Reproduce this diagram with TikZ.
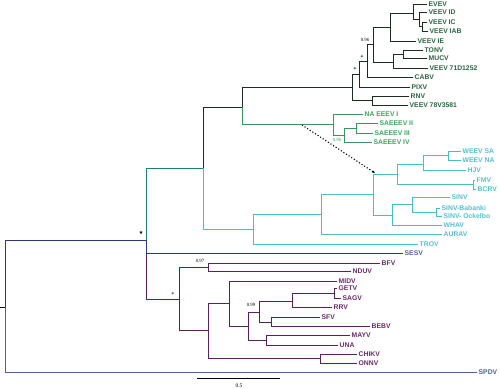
\documentclass[tikz,border=0pt]{standalone}
\usepackage{fontspec}
\newfontfamily\taxonfont{Liberation Sans}
\newfontfamily\numfont{Liberation Serif}
\newfontfamily\symfont{DejaVu Sans}
\usetikzlibrary{arrows.meta}
\definecolor{rootblue}{RGB}{45,55,135}
\definecolor{spdvblue}{RGB}{75,95,165}
\definecolor{stemteal}{RGB}{25,130,118}
\definecolor{veevline}{RGB}{25,45,32}
\definecolor{veevtext}{RGB}{40,100,65}
\definecolor{eeevline}{RGB}{55,150,90}
\definecolor{eeevtext}{RGB}{60,165,95}
\definecolor{weevline}{RGB}{70,190,195}
\definecolor{weevtext}{RGB}{85,192,208}
\definecolor{sfline}{RGB}{90,32,92}
\definecolor{sftext}{RGB}{105,42,105}
\tikzset{
  branch/.style={line width=0.9pt, line cap=rect},
  taxon/.style={
    anchor=west,
    inner sep=1.5pt,
    font={\taxonfont\fontsize{6.8}{8}\selectfont\bfseries},
  },
  support/.style={font={\numfont\fontsize{4.8}{5}\selectfont}, inner sep=0pt},
  nodemark/.style={font={\symfont\fontsize{5}{5}\selectfont}, inner sep=0pt},
  recomb/.style={line width=1.1pt, dotted, -{Latex[length=2.5pt, width=2.5pt]}},
}

\begin{document}
\begin{tikzpicture}[x=1pt, y=-1pt]
  \useasboundingbox (0,0) rectangle (500,388);

  % internal nodes
  \coordinate (stub) at (0,307);
  \coordinate (root) at (5,307);
  \coordinate (alpha) at (146,240);
  \coordinate (ncl) at (203,168);
  \coordinate (eve) at (242,107);
  \coordinate (vee) at (352,87);
  \coordinate (vee2) at (359,74);
  \coordinate (vee3) at (367,61);
  \coordinate (vee4) at (373,44);
  \coordinate (vee5) at (390,27);
  \coordinate (vee6) at (413,13);
  \coordinate (vee7) at (419,19);
  \coordinate (vee8) at (422,26);
  \coordinate (vee9) at (393,62);
  \coordinate (vee10) at (403,54);
  \coordinate (rnvcl) at (372,100);
  \coordinate (eee) at (333,124);
  \coordinate (eee2) at (344,135);
  \coordinate (eee3) at (356,128);
  \coordinate (wee0) at (253,229);
  \coordinate (wee) at (321,214);
  \coordinate (wee2) at (373,194);
  \coordinate (wee3) at (397,174);
  \coordinate (wee4) at (423,164);
  \coordinate (wee5) at (448,155);
  \coordinate (wee6) at (473,184);
  \coordinate (sin) at (392,215);
  \coordinate (sin2) at (412,204);
  \coordinate (sin3) at (436,212);
  \coordinate (sfc) at (179,299);
  \coordinate (bfc) at (208,267);
  \coordinate (sfc2) at (208,330);
  \coordinate (sfc3) at (229,303);
  \coordinate (sfc4) at (248,326);
  \coordinate (sfc5) at (259,312);
  \coordinate (sfc6) at (292,301);
  \coordinate (sfc7) at (334,293);
  \coordinate (sfc8) at (271,322);
  \coordinate (sfc9) at (266,340);
  \coordinate (chk) at (320,358);

  % VEEV complex
  \node[taxon, text=veevtext] (evev) at (427,4) {EVEV};
  \node[taxon, text=veevtext] (veevid) at (427,12) {VEEV ID};
  \node[taxon, text=veevtext] (veevic) at (427,22) {VEEV IC};
  \node[taxon, text=veevtext] (veeviab) at (428,31) {VEEV IAB};
  \node[taxon, text=veevtext] (veevie) at (416,41) {VEEV IE};
  \node[taxon, text=veevtext] (tonv) at (423,50) {TONV};
  \node[taxon, text=veevtext] (mucv) at (427,58) {MUCV};
  \node[taxon, text=veevtext] (veev71) at (428,68) {VEEV 71D1252};
  \node[taxon, text=veevtext] (cabv) at (413,77) {CABV};
  \node[taxon, text=veevtext] (pixv) at (410,87) {PIXV};
  \node[taxon, text=veevtext] (rnv) at (409,96) {RNV};
  \node[taxon, text=veevtext] (veev78) at (408,105) {VEEV 78V3581};
  % EEEV
  \node[taxon, text=eeevtext] (naeeev) at (363,114) {NA EEEV I};
  \node[taxon, text=eeevtext] (saii) at (378,123) {SAEEEV II};
  \node[taxon, text=eeevtext] (saiii) at (373,133) {SAEEEV III};
  \node[taxon, text=eeevtext] (saiv) at (372,142) {SAEEEV IV};
  % WEEV / SINV
  \node[taxon, text=weevtext] (weevsa) at (461,151) {WEEV SA};
  \node[taxon, text=weevtext] (weevna) at (461,160) {WEEV NA};
  \node[taxon, text=weevtext] (hjv) at (466,170) {HJV};
  \node[taxon, text=weevtext] (fmv) at (475,180) {FMV};
  \node[taxon, text=weevtext] (bcrv) at (476,189) {BCRV};
  \node[taxon, text=weevtext] (sinv) at (450,197) {SINV};
  \node[taxon, text=weevtext] (babanki) at (440,208) {SINV-Babanki};
  \node[taxon, text=weevtext] (ockelbo) at (442,216) {SINV- Ockelbo};
  \node[taxon, text=weevtext] (whav) at (442,225) {WHAV};
  \node[taxon, text=weevtext] (aurav) at (442,234) {AURAV};
  \node[taxon, text=weevtext] (trov) at (418,244) {TROV};
  \node[taxon, text=rootblue!80!white] (sesv) at (403,253) {SESV};
  % SF complex
  \node[taxon, text=sftext] (bfv) at (380,263) {BFV};
  \node[taxon, text=sftext] (nduv) at (351,271) {NDUV};
  \node[taxon, text=sftext] (midv) at (337,281) {MIDV};
  \node[taxon, text=sftext] (getv) at (337,288) {GETV};
  \node[taxon, text=sftext] (sagv) at (341,298) {SAGV};
  \node[taxon, text=sftext] (rrv) at (332,307) {RRV};
  \node[taxon, text=sftext] (sfv) at (320,317) {SFV};
  \node[taxon, text=sftext] (bebv) at (370,326) {BEBV};
  \node[taxon, text=sftext] (mayv) at (350,335) {MAYV};
  \node[taxon, text=sftext] (una) at (338,345) {UNA};
  \node[taxon, text=sftext] (chikv) at (357,354) {CHIKV};
  \node[taxon, text=sftext] (onnv) at (357,363) {ONNV};
  \node[taxon, text=spdvblue] (spdv) at (477,372) {SPDV};

  % root and outgroup
  \draw[branch, black] (stub) -- (root);
  \draw[branch, rootblue] (root) |- (alpha);
  \draw[branch, spdvblue] (root) |- (spdv.west);
  \draw[branch, sfline] (alpha) |- (sfc);
  \draw[branch, rootblue] (alpha) |- (sesv.west);
  \draw[branch, stemteal] (alpha) |- (ncl);

  % VEEV / EEEV
  \draw[branch, veevline] (ncl) |- (eve);
  \draw[branch, veevline] (eve) |- (vee);
  \draw[branch, veevline] (vee) |- (vee2);
  \draw[branch, veevline] (vee) |- (rnvcl);
  \draw[branch, veevline] (vee2) |- (vee3);
  \draw[branch, veevline] (vee2) |- (pixv.west);
  \draw[branch, veevline] (vee3) |- (vee4);
  \draw[branch, veevline] (vee3) |- (cabv.west);
  \draw[branch, veevline] (vee4) |- (vee5);
  \draw[branch, veevline] (vee4) |- (vee9);
  \draw[branch, veevline] (vee5) |- (vee6);
  \draw[branch, veevline] (vee5) |- (veevie.west);
  \draw[branch, veevline] (vee6) |- (evev.west);
  \draw[branch, veevline] (vee6) |- (vee7);
  \draw[branch, veevline] (vee7) |- (veevid.west);
  \draw[branch, veevline] (vee7) |- (vee8);
  \draw[branch, veevline] (vee8) |- (veevic.west);
  \draw[branch, veevline] (vee8) |- (veeviab.west);
  \draw[branch, veevline] (vee9) |- (vee10);
  \draw[branch, veevline] (vee9) |- (veev71.west);
  \draw[branch, veevline] (vee10) |- (tonv.west);
  \draw[branch, veevline] (vee10) |- (mucv.west);
  \draw[branch, veevline] (rnvcl) |- (rnv.west);
  \draw[branch, veevline] (rnvcl) |- (veev78.west);
  \draw[branch, eeevline] (eve) |- (eee);
  \draw[branch, eeevline] (eee) |- (naeeev.west);
  \draw[branch, eeevline] (eee) |- (eee2);
  \draw[branch, eeevline] (eee2) |- (eee3);
  \draw[branch, eeevline] (eee2) |- (saiv.west);
  \draw[branch, eeevline] (eee3) |- (saii.west);
  \draw[branch, eeevline] (eee3) |- (saiii.west);

  % WEEV / SINV
  \draw[branch, weevline] (ncl) |- (wee0);
  \draw[branch, weevline] (wee0) |- (wee);
  \draw[branch, weevline] (wee0) |- (trov.west);
  \draw[branch, weevline] (wee) |- (wee2);
  \draw[branch, weevline] (wee) |- (aurav.west);
  \draw[branch, weevline] (wee2) |- (wee3);
  \draw[branch, weevline] (wee2) |- (sin);
  \draw[branch, weevline] (wee3) |- (wee4);
  \draw[branch, weevline] (wee3) |- (wee6);
  \draw[branch, weevline] (wee4) |- (wee5);
  \draw[branch, weevline] (wee4) |- (hjv.west);
  \draw[branch, weevline] (wee5) |- (weevsa.west);
  \draw[branch, weevline] (wee5) |- (weevna.west);
  \draw[branch, weevline] (wee6) |- (fmv.west);
  \draw[branch, weevline] (wee6) |- (bcrv.west);
  \draw[branch, weevline] (sin) |- (sin2);
  \draw[branch, weevline] (sin) |- (whav.west);
  \draw[branch, weevline] (sin2) |- (sinv.west);
  \draw[branch, weevline] (sin2) |- (sin3);
  \draw[branch, weevline] (sin3) |- (babanki.west);
  \draw[branch, weevline] (sin3) |- (ockelbo.west);

  % SF complex
  \draw[branch, sfline] (sfc) |- (bfc);
  \draw[branch, sfline] (sfc) |- (sfc2);
  \draw[branch, sfline] (bfc) |- (bfv.west);
  \draw[branch, sfline] (bfc) |- (nduv.west);
  \draw[branch, sfline] (sfc2) |- (sfc3);
  \draw[branch, sfline] (sfc2) |- (chk);
  \draw[branch, sfline] (sfc3) |- (midv.west);
  \draw[branch, sfline] (sfc3) |- (sfc4);
  \draw[branch, sfline] (sfc4) |- (sfc5);
  \draw[branch, sfline] (sfc4) |- (sfc9);
  \draw[branch, sfline] (sfc5) |- (sfc6);
  \draw[branch, sfline] (sfc5) |- (sfc8);
  \draw[branch, sfline] (sfc6) |- (sfc7);
  \draw[branch, sfline] (sfc6) |- (rrv.west);
  \draw[branch, sfline] (sfc7) |- (getv.west);
  \draw[branch, sfline] (sfc7) |- (sagv.west);
  \draw[branch, sfline] (sfc8) |- (sfv.west);
  \draw[branch, sfline] (sfc8) |- (bebv.west);
  \draw[branch, sfline] (sfc9) |- (mayv.west);
  \draw[branch, sfline] (sfc9) |- (una.west);
  \draw[branch, sfline] (chk) |- (chikv.west);
  \draw[branch, sfline] (chk) |- (onnv.west);

  % recombination
  \coordinate (recfrom) at (302,125);
  \coordinate (recto) at (375,173);
  \draw[recomb] (recfrom) -- (recto);

  % support values and marks
  \node[support] (s1) at (365,40) {0.96};
  \node[support, text=eeevline] (s2) at (337,140) {0.96};
  \node[support] (s3) at (200,261) {0.97};
  \node[support] (s4) at (251,305) {0.99};
  \node[nodemark, text=veevline!80] (m1) at (355,69) {✦};
  \node[nodemark, text=veevline!80] (m2) at (362,57) {✦};
  \node[nodemark, text=sfline!80] (m3) at (173,294) {✦};
  \node[nodemark] (m4) at (141,233) {★};

  % scale bar
  \coordinate (barl) at (197,378);
  \coordinate (barr) at (280,378);
  \draw[line width=0.7pt] (barl) -- (barr);
  \node[support, font={\numfont\fontsize{5.5}{6}\selectfont}] (barlbl) at (239,386) {0.5};
\end{tikzpicture}
\end{document}
